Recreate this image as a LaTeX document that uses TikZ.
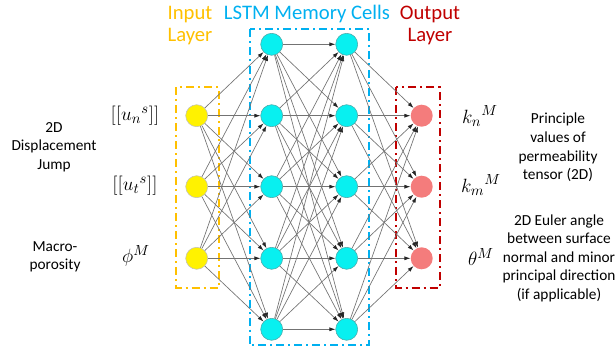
\documentclass[tikz,border=0pt]{standalone}
\usepackage{fontspec}
\setmainfont{Carlito}
\usetikzlibrary{arrows.meta}

\definecolor{inGold}{HTML}{FFC000}
\definecolor{cellBlue}{HTML}{00B0F0}
\definecolor{outRed}{HTML}{C00000}
\definecolor{cellCyan}{HTML}{08F0F0}
\definecolor{outSalmon}{HTML}{F47C7C}

\begin{document}
\begin{tikzpicture}
[x=0.75pt,y=-0.75pt,
  lineDecorate/.style={-{Latex[length=4.5pt,width=3pt,color=black!85]},draw=black!55,line width=0.5pt},%
  nodeDecorate/.style={shape=circle,minimum size=16.5pt,inner sep=0pt},%
  inDecorate/.style={nodeDecorate,fill=yellow,draw=black!25,line width=0.4pt},%
  cellDecorate/.style={nodeDecorate,fill=cellCyan,draw=teal!70,line width=0.4pt},%
  outDecorate/.style={nodeDecorate,fill=outSalmon},%
  boxDecorate/.style={line width=1.5pt,dash pattern=on 6pt off 3pt on 1.5pt off 3pt},%
  titleDecorate/.style={align=center,font=\fontsize{15.5}{17}\selectfont},%
  textDecorate/.style={align=center,font=\fontsize{11.5}{13.9}\selectfont},%
  mathDecorate/.style={font=\fontsize{15.5}{18}\selectfont}]
\useasboundingbox (0,0) rectangle (616,353);
%% dash-dot frames round the layers
\draw[boxDecorate,inGold] (176,87) rectangle (218.5,287.5);
\draw[boxDecorate,cellBlue] (249.5,29.5) rectangle (368.5,345);
\draw[boxDecorate,outRed] (396,87) rectangle (439.5,287.5);
%% layer titles
\node (tIn) at (190,25.5) [titleDecorate,text=inGold] {Input\\Layer};
\node (tCell) at (307,14) [titleDecorate,text=cellBlue] {LSTM Memory Cells};
\node (tOut) at (430,25.5) [titleDecorate,text=outRed] {Output\\Layer};
%% input layer
\foreach \nodename/\y in {in1/115.7, in2/186.7, in3/258.3}
{
  \node (\nodename) at (196.7,\y) [inDecorate] {};
}
%% two columns of memory cells
\foreach \nodename/\x/\y in {
  a1/271.7/44.3, a2/271.7/115.7, a3/271.7/186.7, a4/271.7/258.3, a5/271.7/329.3,
  b1/346.7/44.3, b2/346.7/115.7, b3/346.7/186.7, b4/346.7/258.3, b5/346.7/329.3}
{
  \node (\nodename) at (\x,\y) [cellDecorate] {};
}
%% output layer
\foreach \nodename/\y in {out1/115.7, out2/186.7, out3/258.3}
{
  \node (\nodename) at (421.7,\y) [outDecorate] {};
}
%% edges, fully connected
\path
\foreach \i in {1,2,3}
{
  \foreach \j in {1,...,5}
  {
    (in\i) edge[lineDecorate] (a\j)
    (b\j) edge[lineDecorate] (out\i)
  }
}
\foreach \i in {1,...,5}
{
  \foreach \j in {1,...,5}
  {
    (a\i) edge[lineDecorate] (b\j)
  }
};
%% input quantities
\node (un) at (135,116) [mathDecorate] {$[[{u_n}^{s}]]$};
\node (ut) at (135,186) [mathDecorate] {$[[{u_t}^{s}]]$};
\node (phi) at (136,256) [mathDecorate] {$\phi^{M}$};
\node (jump) at (54,147) [textDecorate] {2D\\Displacement\\Jump};
\node (poro) at (55,257) [textDecorate] {Macro-\\porosity};
%% output quantities
\node (kn) at (480,116) [mathDecorate] {${k_n}^{M}$};
\node (km) at (481,185) [mathDecorate] {${k_m}^{M}$};
\node (theta) at (481,257) [mathDecorate] {$\theta^{M}$};
\node (perm) at (558,147.5) [textDecorate] {Principle\\values of\\permeability\\tensor (2D)};
\node (euler) at (559,258) [textDecorate] {2D Euler angle\\between surface\\normal and minor\\principal direction\\(if applicable)};
\end{tikzpicture}
\end{document}
